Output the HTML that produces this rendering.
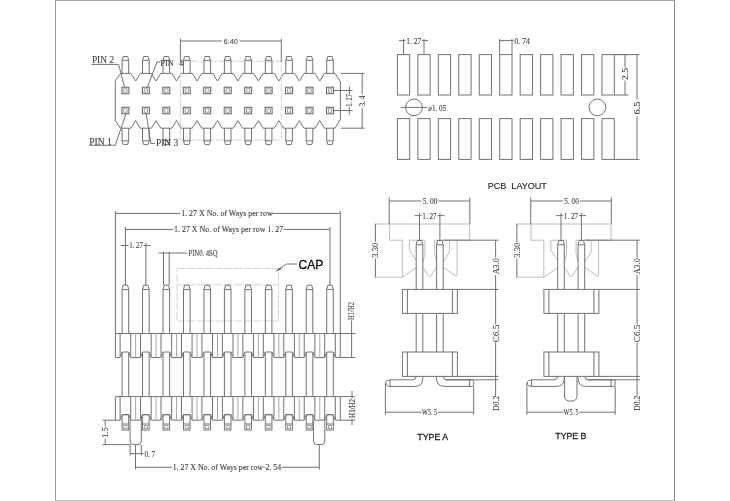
<!DOCTYPE html>
<html><head><meta charset="utf-8"><style>
html,body{margin:0;padding:0;background:#fff;}
body{width:730px;height:501px;overflow:hidden;}
svg{display:block;filter:grayscale(1);}
.k{fill:none;stroke:#727272;stroke-width:1;}
.kp{fill:none;stroke:#606060;stroke-width:1;}
.ki{fill:none;stroke:#8a8a8a;stroke-width:0.8;}
.kf{fill:#5c5c5c;stroke:none;}
.g{fill:none;stroke:#a8a8a8;stroke-width:1;}
.fr1{stroke:#9a9a9a;stroke-width:1;}
.fr2{stroke:#8a8a8a;stroke-width:1;}
.fr3{stroke:#a8a8a8;stroke-width:1;}
.fr4{stroke:#c8c8c8;stroke-width:1;}
.gc{fill:none;stroke:#bdbdbd;stroke-width:1;}
.dl{fill:none;stroke:#d4d4d4;stroke-width:1;stroke-dasharray:8 1.5;}
.t{font-family:"Liberation Serif",serif;fill:#3c3c3c;stroke:#3c3c3c;stroke-width:0.1;}
.s{font-family:"Liberation Sans",sans-serif;fill:#333;}
.sb{font-family:"Liberation Sans",sans-serif;fill:#0a0a0a;stroke:#0a0a0a;stroke-width:0.28;}
.tb{font-family:"Liberation Sans",sans-serif;fill:#1a1a1a;stroke:#1a1a1a;stroke-width:0.3;}
text{opacity:0.995;}
.tm{font-family:"Liberation Sans",sans-serif;fill:#222;stroke:#222;stroke-width:0.12;}
</style></head><body>
<svg width="730" height="501" viewBox="0 0 730 501">
<rect x="0" y="0" width="730" height="501" fill="#fff"/>
<line class="fr1" x1="55.5" y1="0" x2="55.5" y2="501"/>
<line class="fr2" x1="674.5" y1="0" x2="674.5" y2="501"/>
<line class="fr3" x1="55.5" y1="0.5" x2="674.5" y2="0.5"/>
<line class="fr4" x1="55.5" y1="500.5" x2="674.5" y2="500.5"/>
<path class="k" d="M115.3 80.5 L120.8 73.4 L130.93 73.4 L135.63 81 L140.33 73.4 L151.39 73.4 L156.09 81 L160.79 73.4 L171.85 73.4 L176.55 81 L181.25 73.4 L192.31 73.4 L197.01 81 L201.71 73.4 L212.77 73.4 L217.47 81 L222.17 73.4 L233.23 73.4 L237.93 81 L242.63 73.4 L253.69 73.4 L258.39 81 L263.09 73.4 L274.15 73.4 L278.85 81 L283.55 73.4 L294.61 73.4 L299.31 81 L304.01 73.4 L315.07 73.4 L319.77 81 L324.47 73.4 L335 73.4 L340.4 81.6 L340.4 119.4 L335 128.2 L324.47 128.2 L319.77 120.6 L315.07 128.2 L304.01 128.2 L299.31 120.6 L294.61 128.2 L283.55 128.2 L278.85 120.6 L274.15 128.2 L263.09 128.2 L258.39 120.6 L253.69 128.2 L242.63 128.2 L237.93 120.6 L233.23 128.2 L222.17 128.2 L217.47 120.6 L212.77 128.2 L201.71 128.2 L197.01 120.6 L192.31 128.2 L181.25 128.2 L176.55 120.6 L171.85 128.2 L160.79 128.2 L156.09 120.6 L151.39 128.2 L140.33 128.2 L135.63 120.6 L130.93 128.2 L120.5 128.2 L115.3 120.9 Z"/>
<rect class="dl" x="180.4" y="61.2" width="100.9" height="78.8"/>
<path class="k" d="M122.1 73.4 V60.3 L123.2 56.5 H127.6 L128.7 60.3 V73.4"/>
<line class="k" x1="122.1" y1="60.3" x2="128.7" y2="60.3"/>
<path class="k" d="M122.1 128.2 V140.8 L123.2 144.6 H127.6 L128.7 140.8 V128.2"/>
<line class="k" x1="122.1" y1="140.8" x2="128.7" y2="140.8"/>
<rect class="kp" x="121.9" y="87.2" width="7" height="6.5"/>
<rect class="ki" x="123.7" y="88.8" width="3.4" height="3.3"/>
<rect class="kp" x="121.9" y="107.3" width="7" height="6.5"/>
<rect class="ki" x="123.7" y="108.9" width="3.4" height="3.3"/>
<path class="k" d="M142.56 73.4 V60.3 L143.66 56.5 H148.06 L149.16 60.3 V73.4"/>
<line class="k" x1="142.56" y1="60.3" x2="149.16" y2="60.3"/>
<path class="k" d="M142.56 128.2 V140.8 L143.66 144.6 H148.06 L149.16 140.8 V128.2"/>
<line class="k" x1="142.56" y1="140.8" x2="149.16" y2="140.8"/>
<rect class="kp" x="142.36" y="87.2" width="7" height="6.5"/>
<rect class="ki" x="144.16" y="88.8" width="3.4" height="3.3"/>
<rect class="kp" x="142.36" y="107.3" width="7" height="6.5"/>
<rect class="ki" x="144.16" y="108.9" width="3.4" height="3.3"/>
<path class="k" d="M163.02 73.4 V60.3 L164.12 56.5 H168.52 L169.62 60.3 V73.4"/>
<line class="k" x1="163.02" y1="60.3" x2="169.62" y2="60.3"/>
<path class="k" d="M163.02 128.2 V140.8 L164.12 144.6 H168.52 L169.62 140.8 V128.2"/>
<line class="k" x1="163.02" y1="140.8" x2="169.62" y2="140.8"/>
<rect class="kp" x="162.82" y="87.2" width="7" height="6.5"/>
<rect class="ki" x="164.62" y="88.8" width="3.4" height="3.3"/>
<rect class="kp" x="162.82" y="107.3" width="7" height="6.5"/>
<rect class="ki" x="164.62" y="108.9" width="3.4" height="3.3"/>
<path class="k" d="M183.48 73.4 V60.3 L184.58 56.5 H188.98 L190.08 60.3 V73.4"/>
<line class="k" x1="183.48" y1="60.3" x2="190.08" y2="60.3"/>
<path class="k" d="M183.48 128.2 V140.8 L184.58 144.6 H188.98 L190.08 140.8 V128.2"/>
<line class="k" x1="183.48" y1="140.8" x2="190.08" y2="140.8"/>
<rect class="kp" x="183.28" y="87.2" width="7" height="6.5"/>
<rect class="ki" x="185.08" y="88.8" width="3.4" height="3.3"/>
<rect class="kp" x="183.28" y="107.3" width="7" height="6.5"/>
<rect class="ki" x="185.08" y="108.9" width="3.4" height="3.3"/>
<path class="k" d="M203.94 73.4 V60.3 L205.04 56.5 H209.44 L210.54 60.3 V73.4"/>
<line class="k" x1="203.94" y1="60.3" x2="210.54" y2="60.3"/>
<path class="k" d="M203.94 128.2 V140.8 L205.04 144.6 H209.44 L210.54 140.8 V128.2"/>
<line class="k" x1="203.94" y1="140.8" x2="210.54" y2="140.8"/>
<rect class="kp" x="203.74" y="87.2" width="7" height="6.5"/>
<rect class="ki" x="205.54" y="88.8" width="3.4" height="3.3"/>
<rect class="kp" x="203.74" y="107.3" width="7" height="6.5"/>
<rect class="ki" x="205.54" y="108.9" width="3.4" height="3.3"/>
<path class="k" d="M224.4 73.4 V60.3 L225.5 56.5 H229.9 L231 60.3 V73.4"/>
<line class="k" x1="224.4" y1="60.3" x2="231" y2="60.3"/>
<path class="k" d="M224.4 128.2 V140.8 L225.5 144.6 H229.9 L231 140.8 V128.2"/>
<line class="k" x1="224.4" y1="140.8" x2="231" y2="140.8"/>
<rect class="kp" x="224.2" y="87.2" width="7" height="6.5"/>
<rect class="ki" x="226" y="88.8" width="3.4" height="3.3"/>
<rect class="kp" x="224.2" y="107.3" width="7" height="6.5"/>
<rect class="ki" x="226" y="108.9" width="3.4" height="3.3"/>
<path class="k" d="M244.86 73.4 V60.3 L245.96 56.5 H250.36 L251.46 60.3 V73.4"/>
<line class="k" x1="244.86" y1="60.3" x2="251.46" y2="60.3"/>
<path class="k" d="M244.86 128.2 V140.8 L245.96 144.6 H250.36 L251.46 140.8 V128.2"/>
<line class="k" x1="244.86" y1="140.8" x2="251.46" y2="140.8"/>
<rect class="kp" x="244.66" y="87.2" width="7" height="6.5"/>
<rect class="ki" x="246.46" y="88.8" width="3.4" height="3.3"/>
<rect class="kp" x="244.66" y="107.3" width="7" height="6.5"/>
<rect class="ki" x="246.46" y="108.9" width="3.4" height="3.3"/>
<path class="k" d="M265.32 73.4 V60.3 L266.42 56.5 H270.82 L271.92 60.3 V73.4"/>
<line class="k" x1="265.32" y1="60.3" x2="271.92" y2="60.3"/>
<path class="k" d="M265.32 128.2 V140.8 L266.42 144.6 H270.82 L271.92 140.8 V128.2"/>
<line class="k" x1="265.32" y1="140.8" x2="271.92" y2="140.8"/>
<rect class="kp" x="265.12" y="87.2" width="7" height="6.5"/>
<rect class="ki" x="266.92" y="88.8" width="3.4" height="3.3"/>
<rect class="kp" x="265.12" y="107.3" width="7" height="6.5"/>
<rect class="ki" x="266.92" y="108.9" width="3.4" height="3.3"/>
<path class="k" d="M285.78 73.4 V60.3 L286.88 56.5 H291.28 L292.38 60.3 V73.4"/>
<line class="k" x1="285.78" y1="60.3" x2="292.38" y2="60.3"/>
<path class="k" d="M285.78 128.2 V140.8 L286.88 144.6 H291.28 L292.38 140.8 V128.2"/>
<line class="k" x1="285.78" y1="140.8" x2="292.38" y2="140.8"/>
<rect class="kp" x="285.58" y="87.2" width="7" height="6.5"/>
<rect class="ki" x="287.38" y="88.8" width="3.4" height="3.3"/>
<rect class="kp" x="285.58" y="107.3" width="7" height="6.5"/>
<rect class="ki" x="287.38" y="108.9" width="3.4" height="3.3"/>
<path class="k" d="M306.24 73.4 V60.3 L307.34 56.5 H311.74 L312.84 60.3 V73.4"/>
<line class="k" x1="306.24" y1="60.3" x2="312.84" y2="60.3"/>
<path class="k" d="M306.24 128.2 V140.8 L307.34 144.6 H311.74 L312.84 140.8 V128.2"/>
<line class="k" x1="306.24" y1="140.8" x2="312.84" y2="140.8"/>
<rect class="kp" x="306.04" y="87.2" width="7" height="6.5"/>
<rect class="ki" x="307.84" y="88.8" width="3.4" height="3.3"/>
<rect class="kp" x="306.04" y="107.3" width="7" height="6.5"/>
<rect class="ki" x="307.84" y="108.9" width="3.4" height="3.3"/>
<path class="k" d="M326.7 73.4 V60.3 L327.8 56.5 H332.2 L333.3 60.3 V73.4"/>
<line class="k" x1="326.7" y1="60.3" x2="333.3" y2="60.3"/>
<path class="k" d="M326.7 128.2 V140.8 L327.8 144.6 H332.2 L333.3 140.8 V128.2"/>
<line class="k" x1="326.7" y1="140.8" x2="333.3" y2="140.8"/>
<rect class="kp" x="326.5" y="87.2" width="7" height="6.5"/>
<rect class="ki" x="328.3" y="88.8" width="3.4" height="3.3"/>
<rect class="kp" x="326.5" y="107.3" width="7" height="6.5"/>
<rect class="ki" x="328.3" y="108.9" width="3.4" height="3.3"/>
<line class="k" x1="180.4" y1="38.7" x2="180.4" y2="62"/>
<line class="k" x1="281.3" y1="38.7" x2="281.3" y2="62"/>
<line class="k" x1="180.4" y1="41" x2="221.8" y2="41"/>
<line class="k" x1="239.6" y1="41" x2="281.3" y2="41"/>
<text class="s" x="230.7" y="44.2" font-size="6.6" text-anchor="middle" textLength="14" lengthAdjust="spacingAndGlyphs">6.40</text>
<text class="t" x="91.9" y="63" font-size="9.4" textLength="22.2" lengthAdjust="spacingAndGlyphs">PIN 2</text>
<path class="k" d="M91.5 64.4 H118.6 L124.6 87.2"/>
<text class="t" x="160.2" y="65.6" font-size="9" textLength="13.6" lengthAdjust="spacingAndGlyphs">PIN</text>
<text class="t" x="179" y="65.6" font-size="8.6" textLength="4.2" lengthAdjust="spacingAndGlyphs">4</text>
<path class="k" d="M147.4 87.2 L157 62 H160.2"/>
<text class="t" x="89.3" y="144.6" font-size="9.4" textLength="22.6" lengthAdjust="spacingAndGlyphs">PIN 1</text>
<path class="k" d="M89.5 145.3 H115.2 L126 113.8"/>
<text class="t" x="155.9" y="146.3" font-size="9.4" textLength="22.5" lengthAdjust="spacingAndGlyphs">PIN 3</text>
<path class="k" d="M155.2 143.4 H150.8 L146.2 113.8"/>
<line class="k" x1="334" y1="90.45" x2="352.5" y2="90.45"/>
<line class="k" x1="334" y1="110.55" x2="352.5" y2="110.55"/>
<line class="k" x1="349.4" y1="86.5" x2="349.4" y2="94.5"/>
<line class="k" x1="349.4" y1="106.8" x2="349.4" y2="114.5"/>
<text class="t" x="349.6" y="103.37" font-size="8.2" text-anchor="middle" textLength="12.6" lengthAdjust="spacingAndGlyphs" transform="rotate(-90 349.6 100.5)">1. 27</text>
<line class="k" x1="341" y1="73.4" x2="364.5" y2="73.4"/>
<line class="k" x1="341" y1="128.2" x2="364.5" y2="128.2"/>
<line class="k" x1="362.2" y1="73.4" x2="362.2" y2="94.5"/>
<line class="k" x1="362.2" y1="107.8" x2="362.2" y2="128.2"/>
<text class="t" x="361.9" y="104.18" font-size="8.8" text-anchor="middle" textLength="11" lengthAdjust="spacingAndGlyphs" transform="rotate(-90 361.9 101.1)">3. 4</text>
<rect class="k" x="397.4" y="54.6" width="12.3" height="40.4"/>
<rect class="k" x="397.4" y="118.6" width="12.3" height="40.8"/>
<rect class="k" x="417.86" y="54.6" width="12.3" height="40.4"/>
<rect class="k" x="417.86" y="118.6" width="12.3" height="40.8"/>
<rect class="k" x="438.32" y="54.6" width="12.3" height="40.4"/>
<rect class="k" x="438.32" y="118.6" width="12.3" height="40.8"/>
<rect class="k" x="458.78" y="54.6" width="12.3" height="40.4"/>
<rect class="k" x="458.78" y="118.6" width="12.3" height="40.8"/>
<rect class="k" x="479.24" y="54.6" width="12.3" height="40.4"/>
<rect class="k" x="479.24" y="118.6" width="12.3" height="40.8"/>
<rect class="k" x="499.7" y="54.6" width="12.3" height="40.4"/>
<rect class="k" x="499.7" y="118.6" width="12.3" height="40.8"/>
<rect class="k" x="520.16" y="54.6" width="12.3" height="40.4"/>
<rect class="k" x="520.16" y="118.6" width="12.3" height="40.8"/>
<rect class="k" x="540.62" y="54.6" width="12.3" height="40.4"/>
<rect class="k" x="540.62" y="118.6" width="12.3" height="40.8"/>
<rect class="k" x="561.08" y="54.6" width="12.3" height="40.4"/>
<rect class="k" x="561.08" y="118.6" width="12.3" height="40.8"/>
<rect class="k" x="581.54" y="54.6" width="12.3" height="40.4"/>
<rect class="k" x="581.54" y="118.6" width="12.3" height="40.8"/>
<rect class="k" x="602" y="54.6" width="12.3" height="40.4"/>
<rect class="k" x="602" y="118.6" width="12.3" height="40.8"/>
<circle class="k" cx="414" cy="107.4" r="8.4"/>
<circle class="k" cx="597.4" cy="107.4" r="8.4"/>
<line class="k" x1="401" y1="107.4" x2="427" y2="107.4"/>
<text class="t" x="428.3" y="110.9" font-size="8.2" textLength="18" lengthAdjust="spacingAndGlyphs">ø1. 05</text>
<line class="k" x1="403.55" y1="39" x2="403.55" y2="54.6"/>
<line class="k" x1="424" y1="39" x2="424" y2="54.6"/>
<line class="k" x1="399" y1="40.6" x2="405.5" y2="40.6"/>
<line class="k" x1="421.8" y1="40.6" x2="428" y2="40.6"/>
<text class="t" x="406.2" y="44" font-size="8" textLength="15" lengthAdjust="spacingAndGlyphs">1. 27</text>
<line class="k" x1="499.6" y1="39" x2="499.6" y2="54.6"/>
<line class="k" x1="512" y1="39" x2="512" y2="54.6"/>
<line class="k" x1="499.6" y1="40.6" x2="513.5" y2="40.6"/>
<text class="t" x="514.4" y="44" font-size="8" textLength="15.5" lengthAdjust="spacingAndGlyphs">0. 74</text>
<line class="k" x1="614.4" y1="54.6" x2="628.5" y2="54.6"/>
<line class="k" x1="614.4" y1="95" x2="628.5" y2="95"/>
<line class="k" x1="625" y1="54.6" x2="625" y2="67.5"/>
<line class="k" x1="625" y1="80.5" x2="625" y2="95"/>
<text class="t" x="625" y="76.94" font-size="8.4" text-anchor="middle" textLength="12" lengthAdjust="spacingAndGlyphs" transform="rotate(-90 625 74)">2.5</text>
<line class="k" x1="614.4" y1="54.6" x2="639.5" y2="54.6"/>
<line class="k" x1="614.4" y1="159.4" x2="639.5" y2="159.4"/>
<line class="k" x1="637" y1="54.6" x2="637" y2="99.5"/>
<line class="k" x1="637" y1="116.5" x2="637" y2="159.4"/>
<text class="t" x="637" y="110.94" font-size="8.4" text-anchor="middle" textLength="13" lengthAdjust="spacingAndGlyphs" transform="rotate(-90 637 108)">6.5</text>
<text class="tm" x="487.8" y="188.7" font-size="9.3" textLength="59" lengthAdjust="spacingAndGlyphs">PCB&#160; LAYOUT</text>
<line class="k" x1="115.4" y1="211" x2="115.4" y2="333.5"/>
<line class="k" x1="340.3" y1="211" x2="340.3" y2="333.5"/>
<line class="k" x1="115.4" y1="213.4" x2="180.5" y2="213.4"/>
<line class="k" x1="272" y1="213.4" x2="340.3" y2="213.4"/>
<text class="t" x="181.2" y="215.7" font-size="7.3" textLength="91.5" lengthAdjust="spacingAndGlyphs">1. 27 X No. of Ways per row</text>
<line class="k" x1="125.4" y1="227" x2="125.4" y2="285"/>
<line class="k" x1="330" y1="227" x2="330" y2="285"/>
<line class="k" x1="125.4" y1="229.4" x2="173.5" y2="229.4"/>
<line class="k" x1="283.5" y1="229.4" x2="330" y2="229.4"/>
<text class="t" x="174" y="231.6" font-size="7.3" textLength="109.3" lengthAdjust="spacingAndGlyphs">1. 27 X No. of Ways per row 1. 27</text>
<line class="k" x1="145.9" y1="243" x2="145.9" y2="285"/>
<line class="k" x1="121" y1="245.5" x2="128.5" y2="245.5"/>
<line class="k" x1="143.5" y1="245.5" x2="150.4" y2="245.5"/>
<text class="t" x="129.3" y="248.2" font-size="7.4" textLength="13.6" lengthAdjust="spacingAndGlyphs">1. 27</text>
<line class="k" x1="163.5" y1="251.6" x2="163.5" y2="285"/>
<line class="k" x1="169.2" y1="251.6" x2="169.2" y2="285"/>
<line class="k" x1="158.7" y1="253" x2="187.3" y2="253"/>
<text class="t" x="188.5" y="255.7" font-size="7.4" textLength="29" lengthAdjust="spacingAndGlyphs">PIN0. 4SQ</text>
<rect class="dl" x="177" y="268.4" width="101.4" height="52.6"/>
<line class="dl" x1="177" y1="284.8" x2="278.4" y2="284.8"/>
<text class="sb" x="298.4" y="269.2" font-size="12.4" textLength="25" lengthAdjust="spacingAndGlyphs">CAP</text>
<path class="k" d="M297 264 H286.5 L276 271.2"/>
<path class="kf" d="M276 271.2 L280.2 267.2 L281.4 269.6 Z"/>
<path class="k" d="M122.1 333.5 V289.6 L123.2 285.2 H127.6 L128.7 289.6 V333.5"/>
<line class="k" x1="122.1" y1="289.6" x2="128.7" y2="289.6"/>
<line class="k" x1="122.1" y1="352" x2="122.1" y2="396.6"/>
<line class="k" x1="128.7" y1="352" x2="128.7" y2="396.6"/>
<rect class="k" x="122.1" y="414.7" width="6.6" height="15.3"/>
<line class="k" x1="122.1" y1="424" x2="128.7" y2="424"/>
<rect class="ki" x="123.8" y="425.6" width="3.2" height="3"/>
<path class="k" d="M142.56 333.5 V289.6 L143.66 285.2 H148.06 L149.16 289.6 V333.5"/>
<line class="k" x1="142.56" y1="289.6" x2="149.16" y2="289.6"/>
<line class="k" x1="142.56" y1="352" x2="142.56" y2="396.6"/>
<line class="k" x1="149.16" y1="352" x2="149.16" y2="396.6"/>
<rect class="k" x="142.56" y="414.7" width="6.6" height="15.3"/>
<line class="k" x1="142.56" y1="424" x2="149.16" y2="424"/>
<rect class="ki" x="144.26" y="425.6" width="3.2" height="3"/>
<path class="k" d="M163.02 333.5 V289.6 L164.12 285.2 H168.52 L169.62 289.6 V333.5"/>
<line class="k" x1="163.02" y1="289.6" x2="169.62" y2="289.6"/>
<line class="k" x1="163.02" y1="352" x2="163.02" y2="396.6"/>
<line class="k" x1="169.62" y1="352" x2="169.62" y2="396.6"/>
<rect class="k" x="163.02" y="414.7" width="6.6" height="15.3"/>
<line class="k" x1="163.02" y1="424" x2="169.62" y2="424"/>
<rect class="ki" x="164.72" y="425.6" width="3.2" height="3"/>
<path class="k" d="M183.48 333.5 V289.6 L184.58 285.2 H188.98 L190.08 289.6 V333.5"/>
<line class="k" x1="183.48" y1="289.6" x2="190.08" y2="289.6"/>
<line class="k" x1="183.48" y1="352" x2="183.48" y2="396.6"/>
<line class="k" x1="190.08" y1="352" x2="190.08" y2="396.6"/>
<rect class="k" x="183.48" y="414.7" width="6.6" height="15.3"/>
<line class="k" x1="183.48" y1="424" x2="190.08" y2="424"/>
<rect class="ki" x="185.18" y="425.6" width="3.2" height="3"/>
<path class="k" d="M203.94 333.5 V289.6 L205.04 285.2 H209.44 L210.54 289.6 V333.5"/>
<line class="k" x1="203.94" y1="289.6" x2="210.54" y2="289.6"/>
<line class="k" x1="203.94" y1="352" x2="203.94" y2="396.6"/>
<line class="k" x1="210.54" y1="352" x2="210.54" y2="396.6"/>
<rect class="k" x="203.94" y="414.7" width="6.6" height="15.3"/>
<line class="k" x1="203.94" y1="424" x2="210.54" y2="424"/>
<rect class="ki" x="205.64" y="425.6" width="3.2" height="3"/>
<path class="k" d="M224.4 333.5 V289.6 L225.5 285.2 H229.9 L231 289.6 V333.5"/>
<line class="k" x1="224.4" y1="289.6" x2="231" y2="289.6"/>
<line class="k" x1="224.4" y1="352" x2="224.4" y2="396.6"/>
<line class="k" x1="231" y1="352" x2="231" y2="396.6"/>
<rect class="k" x="224.4" y="414.7" width="6.6" height="15.3"/>
<line class="k" x1="224.4" y1="424" x2="231" y2="424"/>
<rect class="ki" x="226.1" y="425.6" width="3.2" height="3"/>
<path class="k" d="M244.86 333.5 V289.6 L245.96 285.2 H250.36 L251.46 289.6 V333.5"/>
<line class="k" x1="244.86" y1="289.6" x2="251.46" y2="289.6"/>
<line class="k" x1="244.86" y1="352" x2="244.86" y2="396.6"/>
<line class="k" x1="251.46" y1="352" x2="251.46" y2="396.6"/>
<rect class="k" x="244.86" y="414.7" width="6.6" height="15.3"/>
<line class="k" x1="244.86" y1="424" x2="251.46" y2="424"/>
<rect class="ki" x="246.56" y="425.6" width="3.2" height="3"/>
<path class="k" d="M265.32 333.5 V289.6 L266.42 285.2 H270.82 L271.92 289.6 V333.5"/>
<line class="k" x1="265.32" y1="289.6" x2="271.92" y2="289.6"/>
<line class="k" x1="265.32" y1="352" x2="265.32" y2="396.6"/>
<line class="k" x1="271.92" y1="352" x2="271.92" y2="396.6"/>
<rect class="k" x="265.32" y="414.7" width="6.6" height="15.3"/>
<line class="k" x1="265.32" y1="424" x2="271.92" y2="424"/>
<rect class="ki" x="267.02" y="425.6" width="3.2" height="3"/>
<path class="k" d="M285.78 333.5 V289.6 L286.88 285.2 H291.28 L292.38 289.6 V333.5"/>
<line class="k" x1="285.78" y1="289.6" x2="292.38" y2="289.6"/>
<line class="k" x1="285.78" y1="352" x2="285.78" y2="396.6"/>
<line class="k" x1="292.38" y1="352" x2="292.38" y2="396.6"/>
<rect class="k" x="285.78" y="414.7" width="6.6" height="15.3"/>
<line class="k" x1="285.78" y1="424" x2="292.38" y2="424"/>
<rect class="ki" x="287.48" y="425.6" width="3.2" height="3"/>
<path class="k" d="M306.24 333.5 V289.6 L307.34 285.2 H311.74 L312.84 289.6 V333.5"/>
<line class="k" x1="306.24" y1="289.6" x2="312.84" y2="289.6"/>
<line class="k" x1="306.24" y1="352" x2="306.24" y2="396.6"/>
<line class="k" x1="312.84" y1="352" x2="312.84" y2="396.6"/>
<rect class="k" x="306.24" y="414.7" width="6.6" height="15.3"/>
<line class="k" x1="306.24" y1="424" x2="312.84" y2="424"/>
<rect class="ki" x="307.94" y="425.6" width="3.2" height="3"/>
<path class="k" d="M326.7 333.5 V289.6 L327.8 285.2 H332.2 L333.3 289.6 V333.5"/>
<line class="k" x1="326.7" y1="289.6" x2="333.3" y2="289.6"/>
<line class="k" x1="326.7" y1="352" x2="326.7" y2="396.6"/>
<line class="k" x1="333.3" y1="352" x2="333.3" y2="396.6"/>
<rect class="k" x="326.7" y="414.7" width="6.6" height="15.3"/>
<line class="k" x1="326.7" y1="424" x2="333.3" y2="424"/>
<rect class="ki" x="328.4" y="425.6" width="3.2" height="3"/>
<path class="k" d="M115.4 333.5 H340.3 V357.5 H335.7 Q335.2 357.5 334.9 356.7 L333.6 352.6 Q333.3 352 332.7 352 H327.3 Q326.7 352 326.4 352.6 L325.1 356.7 Q324.8 357.5 324.3 357.5 H315.24 Q314.74 357.5 314.44 356.7 L313.14 352.6 Q312.84 352 312.24 352 H306.84 Q306.24 352 305.94 352.6 L304.64 356.7 Q304.34 357.5 303.84 357.5 H294.78 Q294.28 357.5 293.98 356.7 L292.68 352.6 Q292.38 352 291.78 352 H286.38 Q285.78 352 285.48 352.6 L284.18 356.7 Q283.88 357.5 283.38 357.5 H274.32 Q273.82 357.5 273.52 356.7 L272.22 352.6 Q271.92 352 271.32 352 H265.92 Q265.32 352 265.02 352.6 L263.72 356.7 Q263.42 357.5 262.92 357.5 H253.86 Q253.36 357.5 253.06 356.7 L251.76 352.6 Q251.46 352 250.86 352 H245.46 Q244.86 352 244.56 352.6 L243.26 356.7 Q242.96 357.5 242.46 357.5 H233.4 Q232.9 357.5 232.6 356.7 L231.3 352.6 Q231 352 230.4 352 H225 Q224.4 352 224.1 352.6 L222.8 356.7 Q222.5 357.5 222 357.5 H212.94 Q212.44 357.5 212.14 356.7 L210.84 352.6 Q210.54 352 209.94 352 H204.54 Q203.94 352 203.64 352.6 L202.34 356.7 Q202.04 357.5 201.54 357.5 H192.48 Q191.98 357.5 191.68 356.7 L190.38 352.6 Q190.08 352 189.48 352 H184.08 Q183.48 352 183.18 352.6 L181.88 356.7 Q181.58 357.5 181.08 357.5 H172.02 Q171.52 357.5 171.22 356.7 L169.92 352.6 Q169.62 352 169.02 352 H163.62 Q163.02 352 162.72 352.6 L161.42 356.7 Q161.12 357.5 160.62 357.5 H151.56 Q151.06 357.5 150.76 356.7 L149.46 352.6 Q149.16 352 148.56 352 H143.16 Q142.56 352 142.26 352.6 L140.96 356.7 Q140.66 357.5 140.16 357.5 H131.1 Q130.6 357.5 130.3 356.7 L129 352.6 Q128.7 352 128.1 352 H122.7 Q122.1 352 121.8 352.6 L120.5 356.7 Q120.2 357.5 119.7 357.5 H115.4 Z"/>
<line class="k" x1="120.1" y1="333.5" x2="120.1" y2="357.5"/>
<line class="k" x1="130.7" y1="333.5" x2="130.7" y2="357.5"/>
<line class="g" x1="135.63" y1="333.5" x2="135.63" y2="357.5"/>
<line class="k" x1="140.56" y1="333.5" x2="140.56" y2="357.5"/>
<line class="k" x1="151.16" y1="333.5" x2="151.16" y2="357.5"/>
<line class="g" x1="156.09" y1="333.5" x2="156.09" y2="357.5"/>
<line class="k" x1="161.02" y1="333.5" x2="161.02" y2="357.5"/>
<line class="k" x1="171.62" y1="333.5" x2="171.62" y2="357.5"/>
<line class="g" x1="176.55" y1="333.5" x2="176.55" y2="357.5"/>
<line class="k" x1="181.48" y1="333.5" x2="181.48" y2="357.5"/>
<line class="k" x1="192.08" y1="333.5" x2="192.08" y2="357.5"/>
<line class="g" x1="197.01" y1="333.5" x2="197.01" y2="357.5"/>
<line class="k" x1="201.94" y1="333.5" x2="201.94" y2="357.5"/>
<line class="k" x1="212.54" y1="333.5" x2="212.54" y2="357.5"/>
<line class="g" x1="217.47" y1="333.5" x2="217.47" y2="357.5"/>
<line class="k" x1="222.4" y1="333.5" x2="222.4" y2="357.5"/>
<line class="k" x1="233" y1="333.5" x2="233" y2="357.5"/>
<line class="g" x1="237.93" y1="333.5" x2="237.93" y2="357.5"/>
<line class="k" x1="242.86" y1="333.5" x2="242.86" y2="357.5"/>
<line class="k" x1="253.46" y1="333.5" x2="253.46" y2="357.5"/>
<line class="g" x1="258.39" y1="333.5" x2="258.39" y2="357.5"/>
<line class="k" x1="263.32" y1="333.5" x2="263.32" y2="357.5"/>
<line class="k" x1="273.92" y1="333.5" x2="273.92" y2="357.5"/>
<line class="g" x1="278.85" y1="333.5" x2="278.85" y2="357.5"/>
<line class="k" x1="283.78" y1="333.5" x2="283.78" y2="357.5"/>
<line class="k" x1="294.38" y1="333.5" x2="294.38" y2="357.5"/>
<line class="g" x1="299.31" y1="333.5" x2="299.31" y2="357.5"/>
<line class="k" x1="304.24" y1="333.5" x2="304.24" y2="357.5"/>
<line class="k" x1="314.84" y1="333.5" x2="314.84" y2="357.5"/>
<line class="g" x1="319.77" y1="333.5" x2="319.77" y2="357.5"/>
<line class="k" x1="324.7" y1="333.5" x2="324.7" y2="357.5"/>
<line class="k" x1="335.3" y1="333.5" x2="335.3" y2="357.5"/>
<path class="k" d="M115.4 396.6 H340.3 V420.2 H335.7 Q335.2 420.2 334.9 419.4 L333.6 415.3 Q333.3 414.7 332.7 414.7 H327.3 Q326.7 414.7 326.4 415.3 L325.1 419.4 Q324.8 420.2 324.3 420.2 H315.24 Q314.74 420.2 314.44 419.4 L313.14 415.3 Q312.84 414.7 312.24 414.7 H306.84 Q306.24 414.7 305.94 415.3 L304.64 419.4 Q304.34 420.2 303.84 420.2 H294.78 Q294.28 420.2 293.98 419.4 L292.68 415.3 Q292.38 414.7 291.78 414.7 H286.38 Q285.78 414.7 285.48 415.3 L284.18 419.4 Q283.88 420.2 283.38 420.2 H274.32 Q273.82 420.2 273.52 419.4 L272.22 415.3 Q271.92 414.7 271.32 414.7 H265.92 Q265.32 414.7 265.02 415.3 L263.72 419.4 Q263.42 420.2 262.92 420.2 H253.86 Q253.36 420.2 253.06 419.4 L251.76 415.3 Q251.46 414.7 250.86 414.7 H245.46 Q244.86 414.7 244.56 415.3 L243.26 419.4 Q242.96 420.2 242.46 420.2 H233.4 Q232.9 420.2 232.6 419.4 L231.3 415.3 Q231 414.7 230.4 414.7 H225 Q224.4 414.7 224.1 415.3 L222.8 419.4 Q222.5 420.2 222 420.2 H212.94 Q212.44 420.2 212.14 419.4 L210.84 415.3 Q210.54 414.7 209.94 414.7 H204.54 Q203.94 414.7 203.64 415.3 L202.34 419.4 Q202.04 420.2 201.54 420.2 H192.48 Q191.98 420.2 191.68 419.4 L190.38 415.3 Q190.08 414.7 189.48 414.7 H184.08 Q183.48 414.7 183.18 415.3 L181.88 419.4 Q181.58 420.2 181.08 420.2 H172.02 Q171.52 420.2 171.22 419.4 L169.92 415.3 Q169.62 414.7 169.02 414.7 H163.62 Q163.02 414.7 162.72 415.3 L161.42 419.4 Q161.12 420.2 160.62 420.2 H151.56 Q151.06 420.2 150.76 419.4 L149.46 415.3 Q149.16 414.7 148.56 414.7 H143.16 Q142.56 414.7 142.26 415.3 L140.96 419.4 Q140.66 420.2 140.16 420.2 H131.1 Q130.6 420.2 130.3 419.4 L129 415.3 Q128.7 414.7 128.1 414.7 H122.7 Q122.1 414.7 121.8 415.3 L120.5 419.4 Q120.2 420.2 119.7 420.2 H115.4 Z"/>
<line class="k" x1="120.1" y1="396.6" x2="120.1" y2="420.2"/>
<line class="k" x1="130.7" y1="396.6" x2="130.7" y2="420.2"/>
<line class="g" x1="135.63" y1="396.6" x2="135.63" y2="420.2"/>
<line class="k" x1="140.56" y1="396.6" x2="140.56" y2="420.2"/>
<line class="k" x1="151.16" y1="396.6" x2="151.16" y2="420.2"/>
<line class="g" x1="156.09" y1="396.6" x2="156.09" y2="420.2"/>
<line class="k" x1="161.02" y1="396.6" x2="161.02" y2="420.2"/>
<line class="k" x1="171.62" y1="396.6" x2="171.62" y2="420.2"/>
<line class="g" x1="176.55" y1="396.6" x2="176.55" y2="420.2"/>
<line class="k" x1="181.48" y1="396.6" x2="181.48" y2="420.2"/>
<line class="k" x1="192.08" y1="396.6" x2="192.08" y2="420.2"/>
<line class="g" x1="197.01" y1="396.6" x2="197.01" y2="420.2"/>
<line class="k" x1="201.94" y1="396.6" x2="201.94" y2="420.2"/>
<line class="k" x1="212.54" y1="396.6" x2="212.54" y2="420.2"/>
<line class="g" x1="217.47" y1="396.6" x2="217.47" y2="420.2"/>
<line class="k" x1="222.4" y1="396.6" x2="222.4" y2="420.2"/>
<line class="k" x1="233" y1="396.6" x2="233" y2="420.2"/>
<line class="g" x1="237.93" y1="396.6" x2="237.93" y2="420.2"/>
<line class="k" x1="242.86" y1="396.6" x2="242.86" y2="420.2"/>
<line class="k" x1="253.46" y1="396.6" x2="253.46" y2="420.2"/>
<line class="g" x1="258.39" y1="396.6" x2="258.39" y2="420.2"/>
<line class="k" x1="263.32" y1="396.6" x2="263.32" y2="420.2"/>
<line class="k" x1="273.92" y1="396.6" x2="273.92" y2="420.2"/>
<line class="g" x1="278.85" y1="396.6" x2="278.85" y2="420.2"/>
<line class="k" x1="283.78" y1="396.6" x2="283.78" y2="420.2"/>
<line class="k" x1="294.38" y1="396.6" x2="294.38" y2="420.2"/>
<line class="g" x1="299.31" y1="396.6" x2="299.31" y2="420.2"/>
<line class="k" x1="304.24" y1="396.6" x2="304.24" y2="420.2"/>
<line class="k" x1="314.84" y1="396.6" x2="314.84" y2="420.2"/>
<line class="g" x1="319.77" y1="396.6" x2="319.77" y2="420.2"/>
<line class="k" x1="324.7" y1="396.6" x2="324.7" y2="420.2"/>
<line class="k" x1="335.3" y1="396.6" x2="335.3" y2="420.2"/>
<path class="k" d="M130.1 420.2 V441 Q130.1 444.6 133.7 444.6 H137.7 Q141.3 444.6 141.3 441 V420.2"/>
<path class="k" d="M313.6 420.2 V441 Q313.6 444.6 317.2 444.6 H321.2 Q324.8 444.6 324.8 441 V420.2"/>
<line class="k" x1="102.5" y1="420.2" x2="115.4" y2="420.2"/>
<line class="k" x1="102.5" y1="444.6" x2="130.1" y2="444.6"/>
<line class="k" x1="105.2" y1="420.2" x2="105.2" y2="426.5"/>
<line class="k" x1="105.2" y1="438.5" x2="105.2" y2="444.6"/>
<text class="t" x="105.2" y="435.61" font-size="8.6" text-anchor="middle" textLength="11" lengthAdjust="spacingAndGlyphs" transform="rotate(-90 105.2 432.6)">1.5</text>
<line class="k" x1="130.1" y1="444.6" x2="130.1" y2="455.5"/>
<line class="k" x1="141.3" y1="444.6" x2="141.3" y2="455.5"/>
<line class="k" x1="130.1" y1="453.6" x2="143.5" y2="453.6"/>
<text class="t" x="144.4" y="456.8" font-size="8.6" textLength="10.8" lengthAdjust="spacingAndGlyphs">0. 7</text>
<line class="k" x1="135.5" y1="444.6" x2="135.5" y2="469.5"/>
<line class="k" x1="319.3" y1="444.6" x2="319.3" y2="469.5"/>
<line class="k" x1="135.5" y1="467.3" x2="172.2" y2="467.3"/>
<line class="k" x1="281.6" y1="467.3" x2="319.3" y2="467.3"/>
<text class="t" x="172.7" y="469.6" font-size="7.3" textLength="108.5" lengthAdjust="spacingAndGlyphs">1. 27 X No. of Ways per row-2. 54</text>
<line class="k" x1="340.3" y1="333.5" x2="355.5" y2="333.5"/>
<line class="k" x1="340.3" y1="357.5" x2="355.5" y2="357.5"/>
<line class="k" x1="351.6" y1="320.5" x2="351.6" y2="357.5"/>
<text class="t" x="351.6" y="313.66" font-size="7.6" text-anchor="middle" textLength="18" lengthAdjust="spacingAndGlyphs" transform="rotate(-90 351.6 311)">H1/H2</text>
<line class="k" x1="340.3" y1="396.6" x2="355" y2="396.6"/>
<line class="k" x1="340.3" y1="420.2" x2="355" y2="420.2"/>
<line class="k" x1="352" y1="391" x2="352" y2="398.5"/>
<line class="k" x1="352" y1="418.5" x2="352" y2="425"/>
<text class="t" x="352" y="411.06" font-size="7.6" text-anchor="middle" textLength="19" lengthAdjust="spacingAndGlyphs" transform="rotate(-90 352 408.4)">H1/H2</text>
<line class="gc" x1="374" y1="224" x2="469.6" y2="224"/>
<path class="gc" d="M389.5 224 V240.2 H402.3 V277.2 H374"/>
<path class="gc" d="M402.3 277.2 L416.2 267.8"/>
<path class="gc" d="M469.6 224 V240.2 H443.2"/>
<path class="gc" d="M457.1 240.2 V274.5 Q457.1 277 455.5 276 L443.2 267.2"/>
<path class="gc" d="M416.2 260.3 L409.3 250 V240.2 H425 V253.8 L422.8 262.5"/>
<path class="gc" d="M436.6 261.8 L434.6 253.8 V240.2 H449.6 V252 L443.2 262"/>
<path class="gc" d="M422.8 267 L428.4 275.8 Q429.6 277.2 430.8 275.8 L436.6 267"/>
<line class="k" x1="389.2" y1="197.5" x2="389.2" y2="224"/>
<line class="k" x1="469.8" y1="197.5" x2="469.8" y2="224"/>
<line class="k" x1="389.2" y1="201" x2="421.5" y2="201"/>
<line class="k" x1="438.5" y1="201" x2="469.8" y2="201"/>
<text class="t" x="430" y="204.2" font-size="8.4" text-anchor="middle" textLength="14.6" lengthAdjust="spacingAndGlyphs">5. 00</text>
<line class="k" x1="419.5" y1="213" x2="419.5" y2="240.2"/>
<line class="k" x1="439.9" y1="213" x2="439.9" y2="240.2"/>
<line class="k" x1="414.6" y1="215.6" x2="421.5" y2="215.6"/>
<line class="k" x1="437.5" y1="215.6" x2="444.5" y2="215.6"/>
<text class="t" x="429.5" y="218.8" font-size="8.4" text-anchor="middle" textLength="14.4" lengthAdjust="spacingAndGlyphs">1. 27</text>
<line class="k" x1="375.4" y1="224" x2="375.4" y2="242"/>
<line class="k" x1="375.4" y1="258.5" x2="375.4" y2="277.2"/>
<text class="t" x="375.4" y="253.14" font-size="8.4" text-anchor="middle" textLength="15" lengthAdjust="spacingAndGlyphs" transform="rotate(-90 375.4 250.2)">3.30</text>
<path class="k" d="M416.2 289.4 V244.8 L417.3 240.5 H421.7 L422.8 244.8 V289.4"/>
<line class="k" x1="416.2" y1="244.8" x2="422.8" y2="244.8"/>
<line class="k" x1="416.2" y1="313.4" x2="416.2" y2="352"/>
<line class="k" x1="422.8" y1="313.4" x2="422.8" y2="352"/>
<path class="k" d="M436.6 289.4 V244.8 L437.7 240.5 H442.1 L443.2 244.8 V289.4"/>
<line class="k" x1="436.6" y1="244.8" x2="443.2" y2="244.8"/>
<line class="k" x1="436.6" y1="313.4" x2="436.6" y2="352"/>
<line class="k" x1="443.2" y1="313.4" x2="443.2" y2="352"/>
<rect class="k" x="402.4" y="289.4" width="55" height="24"/>
<line class="k" x1="407.4" y1="289.4" x2="407.4" y2="313.4"/>
<line class="k" x1="452.4" y1="289.4" x2="452.4" y2="313.4"/>
<rect class="k" x="402.4" y="352" width="55" height="24.4"/>
<line class="k" x1="407.4" y1="352" x2="407.4" y2="376.4"/>
<line class="k" x1="452.4" y1="352" x2="452.4" y2="376.4"/>
<line class="k" x1="443.2" y1="240.2" x2="498.5" y2="240.2"/>
<line class="k" x1="457.4" y1="289.4" x2="498.5" y2="289.4"/>
<line class="k" x1="457.4" y1="376.4" x2="498.5" y2="376.4"/>
<line class="k" x1="445" y1="379.8" x2="498.5" y2="379.8"/>
<line class="k" x1="495.6" y1="240.2" x2="495.6" y2="257.5"/>
<line class="k" x1="495.6" y1="275" x2="495.6" y2="324.5"/>
<line class="k" x1="495.6" y1="342.5" x2="495.6" y2="396"/>
<text class="t" x="495.6" y="269.24" font-size="8.4" text-anchor="middle" textLength="16" lengthAdjust="spacingAndGlyphs" transform="rotate(-90 495.6 266.3)">A3.0</text>
<text class="t" x="495.6" y="336.34" font-size="8.4" text-anchor="middle" textLength="17.5" lengthAdjust="spacingAndGlyphs" transform="rotate(-90 495.6 333.4)">C6.5</text>
<text class="t" x="495.6" y="406.24" font-size="8.4" text-anchor="middle" textLength="15" lengthAdjust="spacingAndGlyphs" transform="rotate(-90 495.6 403.3)">D0.2</text>
<path class="k" d="M416.2 376.4 Q416.2 379.8 412.5 379.8 H390 L387.2 380.6 Q385.6 381.3 385.6 383 Q385.6 385 387.4 385.8 L390 386.4 H414.5 Q422.8 386.4 422.8 378.5 V376.4"/>
<line class="k" x1="390" y1="379.8" x2="390" y2="386.4"/>
<path class="k" d="M443.2 376.4 Q443.2 379.8 446.9 379.8 H469.5 H472 Q473.7 379.8 473.7 381.6 V384.6 Q473.7 386.4 472 386.4 H445 Q436.6 386.4 436.6 378.5 V376.4"/>
<line class="k" x1="469.5" y1="379.8" x2="469.5" y2="386.4"/>
<line class="k" x1="385.4" y1="383" x2="385.4" y2="414.8"/>
<line class="k" x1="473.7" y1="386.4" x2="473.7" y2="414.8"/>
<line class="k" x1="385.4" y1="412.2" x2="421.8" y2="412.2"/>
<line class="k" x1="437.8" y1="412.2" x2="473.7" y2="412.2"/>
<text class="t" x="429.6" y="415.1" font-size="8.4" text-anchor="middle" textLength="15" lengthAdjust="spacingAndGlyphs">W5. 5</text>
<text class="tb" x="432.7" y="440.3" font-size="9.4" text-anchor="middle" textLength="30.8" lengthAdjust="spacingAndGlyphs">TYPE A</text>
<line class="gc" x1="515.5" y1="224" x2="611.1" y2="224"/>
<path class="gc" d="M531 224 V240.2 H543.8 V277.2 H515.5"/>
<path class="gc" d="M543.8 277.2 L557.7 267.8"/>
<path class="gc" d="M611.1 224 V240.2 H584.7"/>
<path class="gc" d="M598.6 240.2 V274.5 Q598.6 277 597 276 L584.7 267.2"/>
<path class="gc" d="M557.7 260.3 L550.8 250 V240.2 H566.5 V253.8 L564.3 262.5"/>
<path class="gc" d="M578.1 261.8 L576.1 253.8 V240.2 H591.1 V252 L584.7 262"/>
<path class="gc" d="M564.3 267 L569.9 275.8 Q571.1 277.2 572.3 275.8 L578.1 267"/>
<line class="k" x1="530.7" y1="197.5" x2="530.7" y2="224"/>
<line class="k" x1="611.3" y1="197.5" x2="611.3" y2="224"/>
<line class="k" x1="530.7" y1="201" x2="563" y2="201"/>
<line class="k" x1="580" y1="201" x2="611.3" y2="201"/>
<text class="t" x="571.5" y="204.2" font-size="8.4" text-anchor="middle" textLength="14.6" lengthAdjust="spacingAndGlyphs">5. 00</text>
<line class="k" x1="561" y1="213" x2="561" y2="240.2"/>
<line class="k" x1="581.4" y1="213" x2="581.4" y2="240.2"/>
<line class="k" x1="556.1" y1="215.6" x2="563" y2="215.6"/>
<line class="k" x1="579" y1="215.6" x2="586" y2="215.6"/>
<text class="t" x="571" y="218.8" font-size="8.4" text-anchor="middle" textLength="14.4" lengthAdjust="spacingAndGlyphs">1. 27</text>
<line class="k" x1="516.9" y1="224" x2="516.9" y2="242"/>
<line class="k" x1="516.9" y1="258.5" x2="516.9" y2="277.2"/>
<text class="t" x="516.9" y="253.14" font-size="8.4" text-anchor="middle" textLength="15" lengthAdjust="spacingAndGlyphs" transform="rotate(-90 516.9 250.2)">3.30</text>
<path class="k" d="M557.7 289.4 V244.8 L558.8 240.5 H563.2 L564.3 244.8 V289.4"/>
<line class="k" x1="557.7" y1="244.8" x2="564.3" y2="244.8"/>
<line class="k" x1="557.7" y1="313.4" x2="557.7" y2="352"/>
<line class="k" x1="564.3" y1="313.4" x2="564.3" y2="352"/>
<path class="k" d="M578.1 289.4 V244.8 L579.2 240.5 H583.6 L584.7 244.8 V289.4"/>
<line class="k" x1="578.1" y1="244.8" x2="584.7" y2="244.8"/>
<line class="k" x1="578.1" y1="313.4" x2="578.1" y2="352"/>
<line class="k" x1="584.7" y1="313.4" x2="584.7" y2="352"/>
<rect class="k" x="543.9" y="289.4" width="55" height="24"/>
<line class="k" x1="548.9" y1="289.4" x2="548.9" y2="313.4"/>
<line class="k" x1="593.9" y1="289.4" x2="593.9" y2="313.4"/>
<rect class="k" x="543.9" y="352" width="55" height="24.4"/>
<line class="k" x1="548.9" y1="352" x2="548.9" y2="376.4"/>
<line class="k" x1="593.9" y1="352" x2="593.9" y2="376.4"/>
<line class="k" x1="584.7" y1="240.2" x2="640" y2="240.2"/>
<line class="k" x1="598.9" y1="289.4" x2="640" y2="289.4"/>
<line class="k" x1="598.9" y1="376.4" x2="640" y2="376.4"/>
<line class="k" x1="586.5" y1="379.8" x2="640" y2="379.8"/>
<line class="k" x1="637.1" y1="240.2" x2="637.1" y2="257.5"/>
<line class="k" x1="637.1" y1="275" x2="637.1" y2="324.5"/>
<line class="k" x1="637.1" y1="342.5" x2="637.1" y2="396"/>
<text class="t" x="637.1" y="269.24" font-size="8.4" text-anchor="middle" textLength="16" lengthAdjust="spacingAndGlyphs" transform="rotate(-90 637.1 266.3)">A3.0</text>
<text class="t" x="637.1" y="336.34" font-size="8.4" text-anchor="middle" textLength="17.5" lengthAdjust="spacingAndGlyphs" transform="rotate(-90 637.1 333.4)">C6.5</text>
<text class="t" x="637.1" y="406.24" font-size="8.4" text-anchor="middle" textLength="15" lengthAdjust="spacingAndGlyphs" transform="rotate(-90 637.1 403.3)">D0.2</text>
<path class="k" d="M557.7 376.4 Q557.7 379.8 554 379.8 H531.5 L528.7 380.6 Q527.1 381.3 527.1 383 Q527.1 385 528.9 385.8 L531.5 386.4 H556 Q564.3 386.4 564.3 378.5 V376.4"/>
<line class="k" x1="531.5" y1="379.8" x2="531.5" y2="386.4"/>
<path class="k" d="M584.7 376.4 Q584.7 379.8 588.4 379.8 H611 H613.5 Q615.2 379.8 615.2 381.6 V384.6 Q615.2 386.4 613.5 386.4 H586.5 Q578.1 386.4 578.1 378.5 V376.4"/>
<line class="k" x1="611" y1="379.8" x2="611" y2="386.4"/>
<line class="k" x1="526.9" y1="383" x2="526.9" y2="414.8"/>
<line class="k" x1="615.2" y1="386.4" x2="615.2" y2="414.8"/>
<line class="k" x1="526.9" y1="412.2" x2="563.3" y2="412.2"/>
<line class="k" x1="579.3" y1="412.2" x2="615.2" y2="412.2"/>
<text class="t" x="571.1" y="415.1" font-size="8.4" text-anchor="middle" textLength="15" lengthAdjust="spacingAndGlyphs">W5. 5</text>
<path class="k" d="M564.6 376.4 V396 Q564.6 401.2 570.8 401.2 Q577 401.2 577 396 V376.4"/>
<text class="tb" x="570.9" y="438.8" font-size="9.4" text-anchor="middle" textLength="31.1" lengthAdjust="spacingAndGlyphs">TYPE B</text>
</svg>
</body></html>
